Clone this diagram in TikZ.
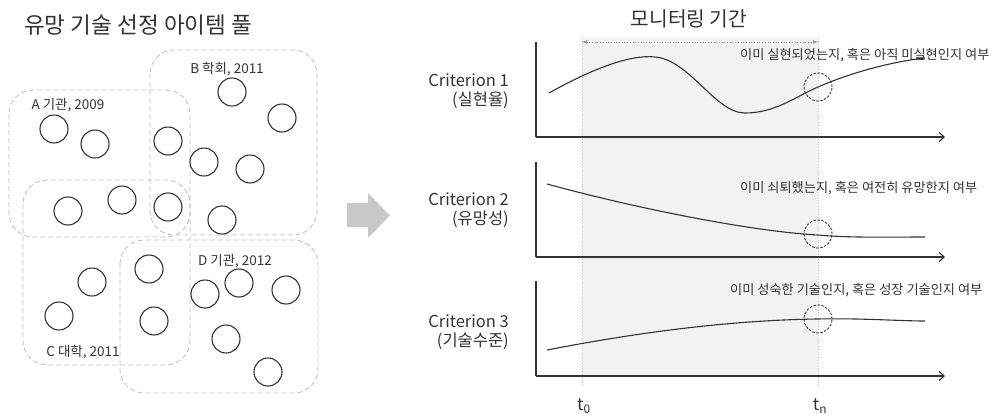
\documentclass[tikz,border=0pt]{standalone}
\usepackage{fontspec}
\newfontfamily\kr{Noto Sans CJK KR}
\usetikzlibrary{arrows.meta}
\definecolor{txt}{HTML}{333333}
\definecolor{boxgray}{HTML}{BDBDBD}
\definecolor{shadegray}{HTML}{F2F2F2}
\definecolor{arrowgray}{HTML}{C8C8C8}
\begin{document}
\begin{tikzpicture}[x=1pt,y=-1pt,
  every node/.style={font=\kr, text=txt, inner sep=0pt},
  pool/.style={draw=boxgray, dashed, dash pattern=on 5pt off 3pt, line width=0.8pt, rounded corners=24pt},
  item/.style={circle, draw=txt, line width=1.1pt, minimum size=28pt},
  lbl/.style={font=\kr\fontsize{13.5}{15}\selectfont},
  crit/.style={font=\kr\fontsize{16.5}{19.5}\selectfont, align=right, anchor=east},
  note/.style={font=\kr\fontsize{13.2}{15}\selectfont, anchor=west},
  axis/.style={draw=txt, line width=1.1pt},
  curve/.style={draw=txt, line width=1.1pt},
  mark circ/.style={circle, draw=txt, dashed, dash pattern=on 2.5pt off 1.5pt, line width=0.9pt, minimum size=28pt},
  guide/.style={draw=boxgray, dotted, line width=0.8pt}]
\useasboundingbox (0,0) rectangle (997,416);

% title
\node[anchor=west, font=\kr\fontsize{22.6}{26}\selectfont] (title) at (24,25) {유망 기술 선정 아이템 풀};

% pools
\draw[pool] (150,50) rectangle (317,235);
\draw[pool] (9,90) rectangle (190,237);
\draw[pool] (23,180) rectangle (190,365);
\draw[pool] (120,240) rectangle (318,393);

\node[lbl] (lB) at (227,69) {B 학회, 2011};
\node[lbl] (lA) at (68,105) {A 기관, 2009};
\node[lbl] (lC) at (83,352) {C 대학, 2011};
\node[lbl] (lD) at (235,261) {D 기관, 2012};

% items
\foreach \i/\p in {1/{232,92},2/{282,118},3/{54,129},4/{95,144},5/{168,141},6/{204,162},7/{250,169},
  8/{68,211},9/{122,200},10/{168,207},11/{222,220},12/{149,269},13/{92,282},14/{59,316},
  15/{154,321},16/{205,294},17/{239,283},18/{286,290},19/{226,339},20/{268,372}}
  \node[item] (c\i) at (\p) {};

% big gray arrow
\fill[arrowgray] (347,203) -- (368,203) -- (368,193) -- (390,215.5) -- (368,238) -- (368,227) -- (347,227) -- cycle;

% monitoring window
\fill[shadegray] (582,38) rectangle (818,376);
\coordinate (t0top) at (582,38);
\coordinate (t0bot) at (582,386);
\coordinate (tntop) at (818,38);
\coordinate (tnbot) at (818,386);
\draw[guide] (t0top) -- (t0bot);
\draw[guide] (tntop) -- (tnbot);
\coordinate (wl) at (582,42);
\coordinate (wr) at (818,42);
\draw[draw=gray!80, dotted, line width=0.7pt, {Latex[length=5pt,width=4pt]}-{Latex[length=5pt,width=4pt]}] (wl) -- (wr);
\node[font=\kr\fontsize{20.3}{22}\selectfont] (mon) at (689,19) {모니터링 기간};

% axes
\coordinate (o1) at (536,137); \coordinate (y1) at (536,42); \coordinate (x1) at (945,137);
\coordinate (o2) at (536,257); \coordinate (y2) at (536,162); \coordinate (x2) at (945,257);
\coordinate (o3) at (536,376); \coordinate (y3) at (536,281); \coordinate (x3) at (945,376);
\draw[axis] (y1) -- (o1);
\draw[axis, -{Straight Barb[length=5pt,width=9pt]}] (o1) -- (x1);
\draw[axis] (y2) -- (o2);
\draw[axis, -{Straight Barb[length=5pt,width=9pt]}] (o2) -- (x2);
\draw[axis] (y3) -- (o3);
\draw[axis, -{Straight Barb[length=5pt,width=9pt]}] (o3) -- (x3);

% criterion labels
\node[crit] (k1) at (509,91) {Criterion 1\\(실현율)};
\node[crit] (k2) at (509,210) {Criterion 2\\(유망성)};
\node[crit] (k3) at (509,332) {Criterion 3\\(기술수준)};

% notes
\node[note] (n1) at (740,55) {이미 실현되었는지, 혹은 아직 미실현인지 여부};
\node[note] (n2) at (740,188) {이미 쇠퇴했는지, 혹은 여전히 유망한지 여부};
\node[note] (n3) at (730,290) {이미 성숙한 기술인지, 혹은 성장 기술인지 여부};

% curves
\draw[curve] (549,93) .. controls (590,70) and (630,54) .. (655,57)
  .. controls (690,60) and (715,113) .. (745,113)
  .. controls (775,113) and (795,97) .. (818,87)
  .. controls (850,73) and (890,62) .. (925,58);
\draw[curve] (547,184) .. controls (650,212) and (760,232) .. (818,235)
  .. controls (850,238) and (890,237) .. (925,237);
\draw[curve] (547,350) .. controls (650,330) and (740,320) .. (818,319)
  .. controls (860,318) and (900,321) .. (925,321);

\node[mark circ] (m1) at (818,87) {};
\node[mark circ] (m2) at (818,234) {};
\node[mark circ] (m3) at (818,319) {};

% time labels
\node[font=\kr\fontsize{17}{19}\selectfont] (tz) at (584,406) {t\textsubscript{0}};
\node[font=\kr\fontsize{17}{19}\selectfont] (tn) at (820,406) {t\textsubscript{n}};
\end{tikzpicture}
\end{document}
